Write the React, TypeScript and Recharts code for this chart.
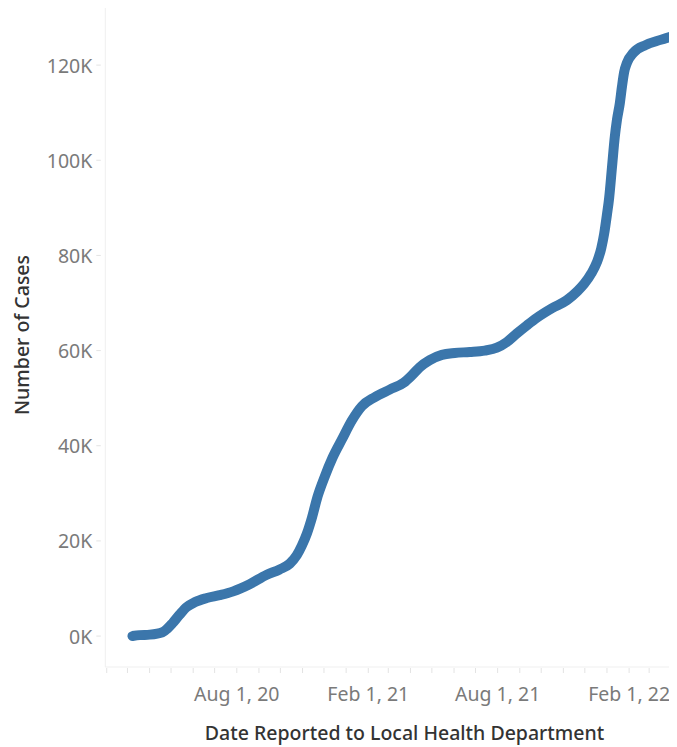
import { LineChart, Line, XAxis, YAxis } from "recharts";

const LINE_COLOR = "#3b76ab";
const TICK_COLOR = "#7a7a7a";
const TITLE_COLOR = "#333333";
const FONT = "'Noto Sans', 'Open Sans', sans-serif";

// cumulative cases by report date
const DATES = [
  "2020-03-08", "2020-03-18", "2020-04-01", "2020-04-19", "2020-04-26",
  "2020-05-03", "2020-05-13", "2020-05-23", "2020-06-03", "2020-06-20",
  "2020-07-08", "2020-07-27", "2020-08-19", "2020-09-12", "2020-09-30",
  "2020-10-14", "2020-10-24", "2020-10-31", "2020-11-07", "2020-11-14",
  "2020-11-22", "2020-12-02", "2020-12-13", "2020-12-26", "2021-01-09",
  "2021-01-23", "2021-02-10", "2021-03-03", "2021-03-23", "2021-04-03",
  "2021-04-14", "2021-04-28", "2021-05-15", "2021-06-02", "2021-06-23",
  "2021-07-14", "2021-07-31", "2021-08-14", "2021-08-28", "2021-09-11",
  "2021-09-25", "2021-10-16", "2021-11-06", "2021-11-20", "2021-11-30",
  "2021-12-10", "2021-12-18", "2021-12-24", "2021-12-28", "2022-01-01",
  "2022-01-04", "2022-01-08", "2022-01-12", "2022-01-15", "2022-01-19",
  "2022-01-22", "2022-01-25", "2022-01-29", "2022-02-07", "2022-02-24",
  "2022-03-17", "2022-04-09",
];

const CASES = [
  0, 200, 300, 800, 1600,
  2700, 4500, 6100, 7100, 8000,
  8600, 9400, 10900, 12900, 14000,
  15200, 17000, 19000, 21500, 24800,
  29300, 33500, 37500, 41300, 45300,
  48300, 50200, 51800, 53300, 54800,
  56500, 58000, 59100, 59500, 59700,
  60000, 60600, 61800, 63600, 65300,
  66900, 68900, 70600, 72400, 74000,
  76200, 78600, 81500, 84500, 88600,
  92000, 98500, 105000, 108500, 112000,
  115500, 118500, 120500, 122600, 124200,
  125300, 126400,
];

const Y_TICKS = [0, 20000, 40000, 60000, 80000, 100000, 120000];
const MAJOR_TICKS = ["2020-08-01", "2021-02-01", "2021-08-01", "2022-02-01"];
const MAJOR_LABELS = ["Aug 1, 20", "Feb 1, 21", "Aug 1, 21", "Feb 1, 22"];

const toTime = (s: string) => {
  const [y, m, d] = s.split("-").map(Number);
  return Date.UTC(y, m - 1, d);
};

const data = DATES.map((d, i) => ({ t: toTime(d), cases: CASES[i] }));

const X_START = toTime("2020-01-30");
const X_END = toTime("2022-04-09");

// monthly tick marks, Feb 2020 .. Apr 2022
const monthTicks: number[] = [];
for (let y = 2020, m = 1; y < 2022 || m <= 3; m++) {
  if (m > 11) {
    m = 0;
    y++;
  }
  monthTicks.push(Date.UTC(y, m, 1));
  if (y === 2022 && m === 3) break;
}

const majorLabel = (t: number) => {
  const i = MAJOR_TICKS.map(toTime).indexOf(t);
  return i >= 0 ? MAJOR_LABELS[i] : "";
};

function XTick(props: any) {
  const { x, y, payload } = props;
  const label = majorLabel(payload.value);
  return (
    <g>
      <line x1={x} x2={x} y1={y + 1} y2={y + 6} stroke="#e3e3e3" strokeWidth={1} />
      {label && (
        <text
          x={x}
          y={y + 26}
          textAnchor="middle"
          dominantBaseline="central"
          fill={TICK_COLOR}
          fontSize={19.5}
          fontFamily={FONT}
        >
          {label}
        </text>
      )}
    </g>
  );
}

function YTick(props: any) {
  const { x, y, payload } = props;
  return (
    <g>
      <line x1={x - 9} x2={x - 4.5} y1={y} y2={y} stroke="#e3e3e3" strokeWidth={1} />
      <text
        x={x - 13}
        y={y}
        textAnchor="end"
        dominantBaseline="central"
        fill={TICK_COLOR}
        fontSize={19.5}
        fontFamily={FONT}
      >
        {`${payload.value / 1000}K`}
      </text>
    </g>
  );
}

export default function App() {
  return (
    <LineChart
      width={669}
      height={739}
      data={data}
      margin={{ top: 0, right: 0, bottom: 0, left: 0 }}
    >
      <XAxis
        dataKey="t"
        type="number"
        domain={[X_START, X_END]}
        allowDataOverflow
        ticks={monthTicks}
        interval={0}
        tick={<XTick />}
        tickLine={false}
        tickSize={0}
        tickMargin={0}
        height={80}
        axisLine={{ stroke: "#efefef" }}
        label={{
          content: () => (
            <text
              x={396.5}
              y={732}
              textAnchor="middle"
              fill={TITLE_COLOR}
              fontSize={19.5}
              fontWeight={500}
              fontFamily={FONT}
            >
              Date Reported to Local Health Department
            </text>
          ),
        }}
      />
      <YAxis
        type="number"
        domain={[-6500, 132000]}
        allowDataOverflow
        ticks={Y_TICKS}
        interval={0}
        width={97.3}
        tick={<YTick />}
        tickLine={false}
        tickSize={0}
        tickMargin={0}
        axisLine={{ stroke: "#efefef" }}
        label={{
          content: () => (
            <text
              x={13}
              y={327}
              transform="rotate(-90 13 327)"
              textAnchor="middle"
              dominantBaseline="central"
              fill={TITLE_COLOR}
              fontSize={19.5}
              fontWeight={500}
              fontFamily={FONT}
            >
              Number of Cases
            </text>
          ),
        }}
      />
      <Line
        type="monotone"
        dataKey="cases"
        stroke={LINE_COLOR}
        strokeWidth={10}
        strokeLinecap="round"
        strokeLinejoin="round"
        dot={false}
        isAnimationActive={false}
      />
    </LineChart>
  );
}
